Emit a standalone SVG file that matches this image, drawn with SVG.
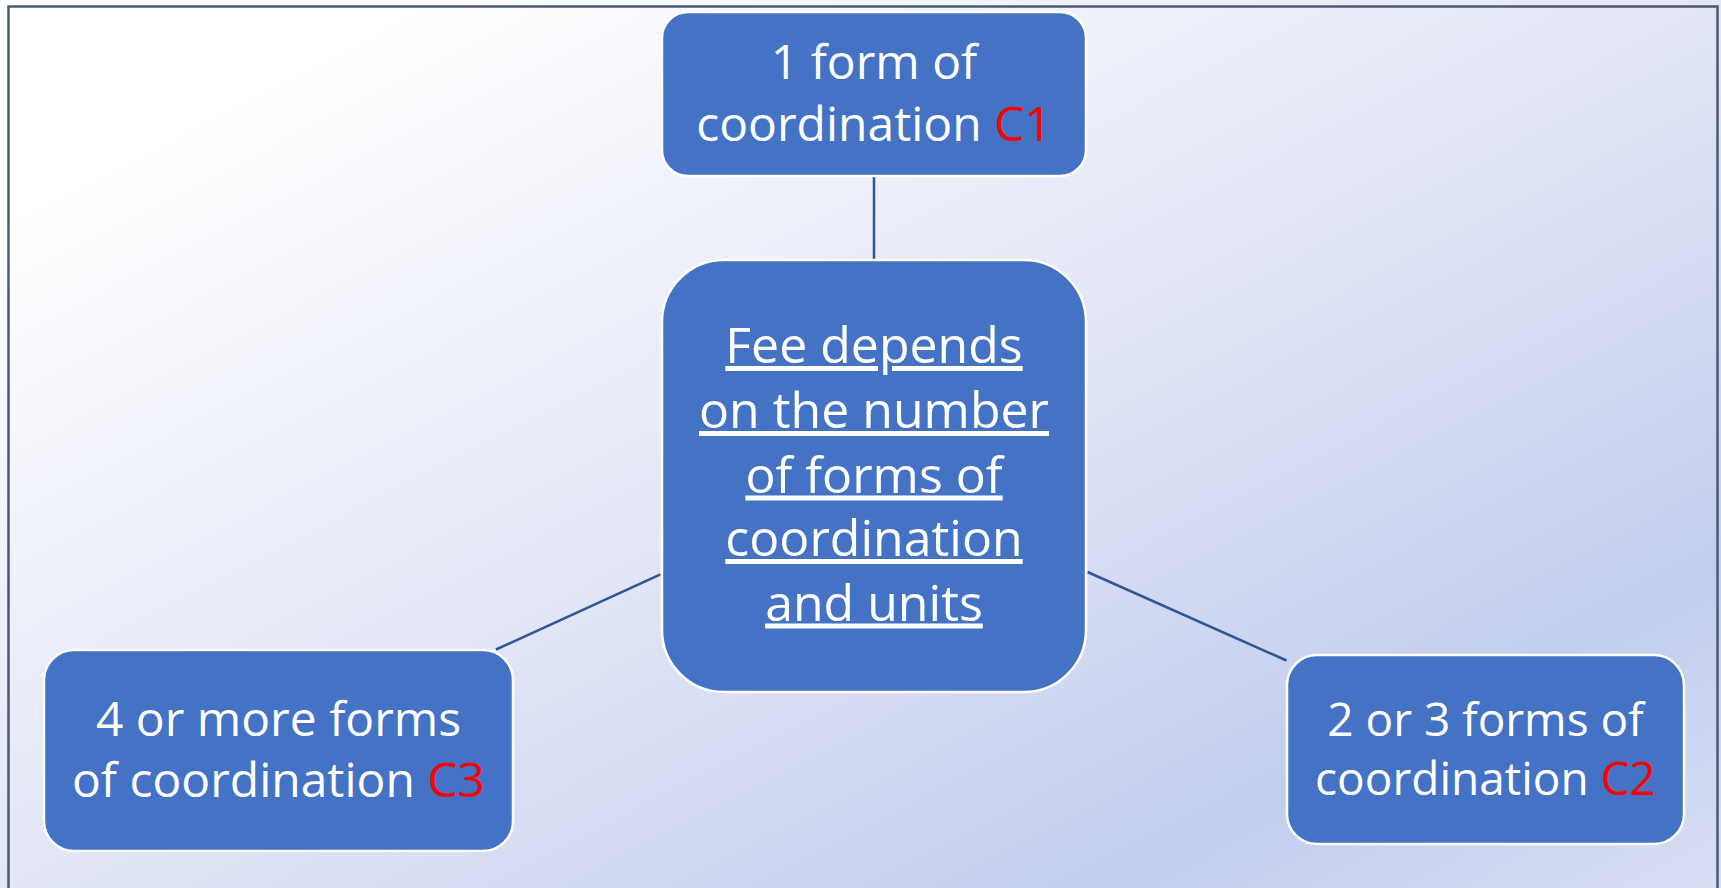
<svg xmlns="http://www.w3.org/2000/svg" width="1721" height="888" viewBox="0 0 1721 888">
  <defs>
    <linearGradient id="bg" x1="0" y1="0" x2="1" y2="1">
      <stop offset="0" stop-color="#FFFFFF"/>
      <stop offset="0.12" stop-color="#FFFFFF"/>
      <stop offset="0.5" stop-color="#E2E6F6"/>
      <stop offset="0.82" stop-color="#C3CEEE"/>
      <stop offset="1" stop-color="#D8DEF4"/>
    </linearGradient>
    <style>
      .node { fill: #4472C4; stroke: #FFFFFF; stroke-width: 2.5; }
      .lbl { font-family: "Open Sans", "Noto Sans", sans-serif; fill: #FFFFFF; text-anchor: middle; }
      .red { fill: #FF0000; }
      .conn { stroke: #2F5597; stroke-width: 2.5; fill: none; }
      .ul { text-decoration: underline; }
    </style>
  </defs>
  <rect x="0" y="0" width="1721" height="888" fill="url(#bg)"/>
  <rect x="8.5" y="6.5" width="1709" height="900" fill="none" stroke="#4A5A74" stroke-width="2.5"/>

  <g id="connectors">
    <line class="conn" x1="874" y1="177" x2="874" y2="260"/>
    <line class="conn" x1="496" y1="649.5" x2="660.5" y2="574.3"/>
    <line class="conn" x1="1087.5" y1="572" x2="1286.5" y2="660.5"/>
  </g>

  <g id="node-center">
    <rect class="node" x="662" y="260" width="424" height="432" rx="62" ry="62"/>
    <text class="lbl ul" font-size="50" x="874" y="363">Fee depends</text>
    <text class="lbl ul" font-size="50" x="874" y="428">on the number</text>
    <text class="lbl ul" font-size="50" x="874" y="492.5">of forms of</text>
    <text class="lbl ul" font-size="50" x="874" y="556">coordination</text>
    <text class="lbl ul" font-size="50" x="874" y="620.5">and units</text>
  </g>

  <g id="node-c1">
    <rect class="node" x="662" y="12" width="424" height="164" rx="26" ry="26"/>
    <text class="lbl" font-size="48" x="874" y="79">1 form of</text>
    <text class="lbl" font-size="48" x="874" y="141">coordination <tspan class="red">C1</tspan></text>
  </g>

  <g id="node-c3">
    <rect class="node" x="44" y="650" width="469" height="201" rx="30" ry="30"/>
    <text class="lbl" font-size="48" x="278.5" y="736">4 or more forms</text>
    <text class="lbl" font-size="48" x="278.5" y="796.5">of coordination <tspan class="red">C3</tspan></text>
  </g>

  <g id="node-c2">
    <rect class="node" x="1287" y="655" width="397" height="189" rx="30" ry="30"/>
    <text class="lbl" font-size="46" x="1485.5" y="735.5">2 or 3 forms of</text>
    <text class="lbl" font-size="46" x="1485.5" y="795">coordination <tspan class="red">C2</tspan></text>
  </g>
</svg>
